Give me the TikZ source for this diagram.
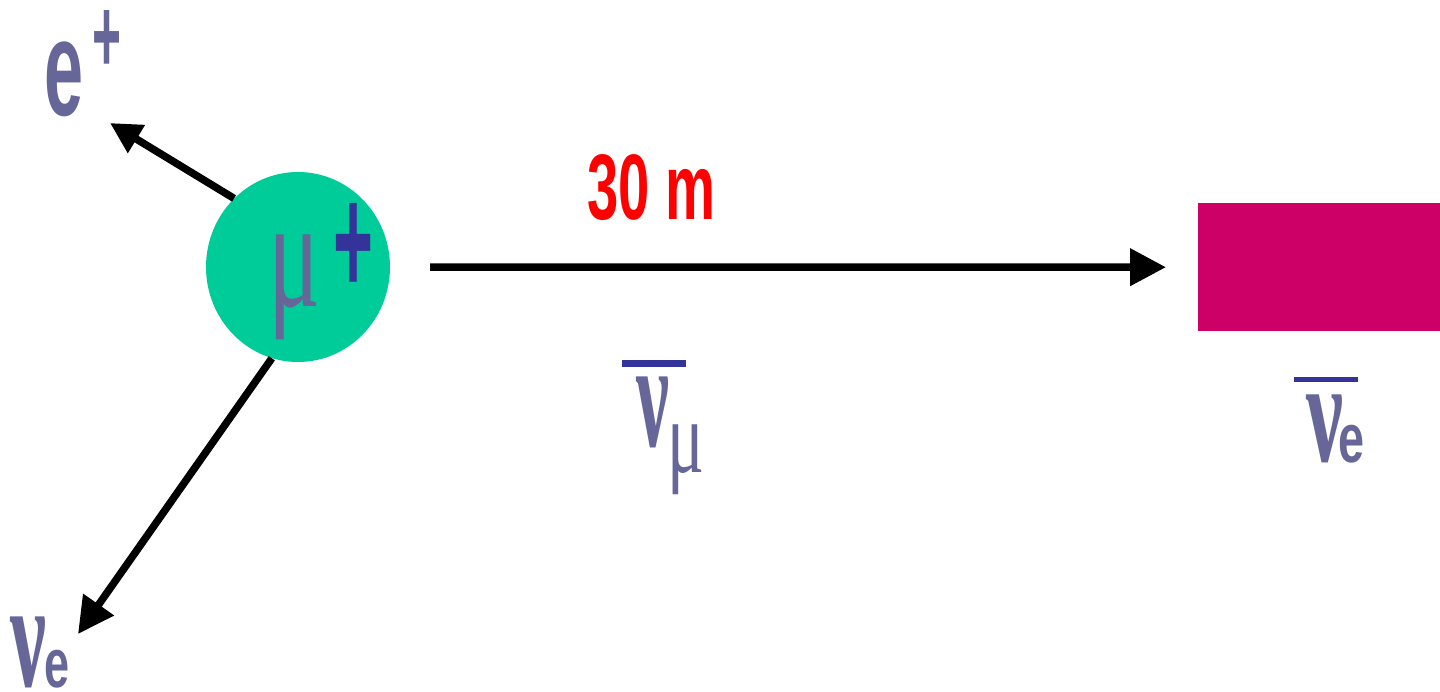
\documentclass[tikz,border=0pt]{standalone}
\usepackage{fontspec}
\setmainfont{Liberation Sans}
\newfontfamily\grk{Liberation Serif}
\usetikzlibrary{arrows.meta,shapes.geometric}
\definecolor{txt}{HTML}{666699}
\definecolor{dblue}{HTML}{333399}
\definecolor{mgreen}{HTML}{00CC99}
\definecolor{mag}{HTML}{CC0066}
\newcommand{\gl}[3]{\resizebox*{#1pt}{#2pt}{#3}}
\begin{document}
\begin{tikzpicture}[x=1pt,y=-1pt,
  glyph/.style={inner sep=0pt, outer sep=0pt, anchor=north west, text=txt, font=\bfseries},
  arr/.style={line width=7.5pt, -{Triangle[length=#1pt,width=#1pt]}}]
\useasboundingbox (0,0) rectangle (1440,691);
\node[ellipse, fill=mgreen, minimum width=184pt, minimum height=190pt, inner sep=0pt] (mu) at (298,267) {};
\node[fill=mag, minimum width=242pt, minimum height=128pt, inner sep=0pt, anchor=north west] (det) at (1198,203) {};
\coordinate (etip) at (110,123);
\coordinate (nuetip) at (78,634);
\draw[arr=31] (mu.133) -- (etip);
\draw[arr=36] (mu.254) -- (nuetip);
\draw[arr=36] ([xshift=40pt]mu.east) -- ([xshift=-32pt]det.west);
% labels
\node[glyph] (e) at (44,42) {\gl{39}{75}{e}};
\node[glyph] (eplus) at (92,10) {\gl{29}{62}{+}};
\node[glyph, font=\mdseries] (muL) at (268,235) {\gl{52}{105}{\grk μ}};
\node[glyph, text=dblue] (muplus) at (333,203) {\gl{40}{91}{+}};
\node[glyph, text=red] (dist) at (587,155) {\gl{128}{66}{30 m}};
\fill[dblue] (622,360) rectangle (686,367);
\node[glyph] (numu) at (636,377) {\gl{33}{71}{\grk ν}};
\node[glyph, font=\mdseries] (numusub) at (667,425) {\gl{37}{70}{\grk μ}};
\fill[dblue] (1294,377) rectangle (1358,382);
\node[glyph] (nuer) at (1306,395) {\gl{37}{68}{\grk ν}};
\node[glyph] (nuersub) at (1338,425) {\gl{26}{38}{e}};
\node[glyph] (nuel) at (10,617) {\gl{36}{71}{\grk ν}};
\node[glyph] (nuelsub) at (44,650) {\gl{25}{38}{e}};
\end{tikzpicture}
\end{document}
